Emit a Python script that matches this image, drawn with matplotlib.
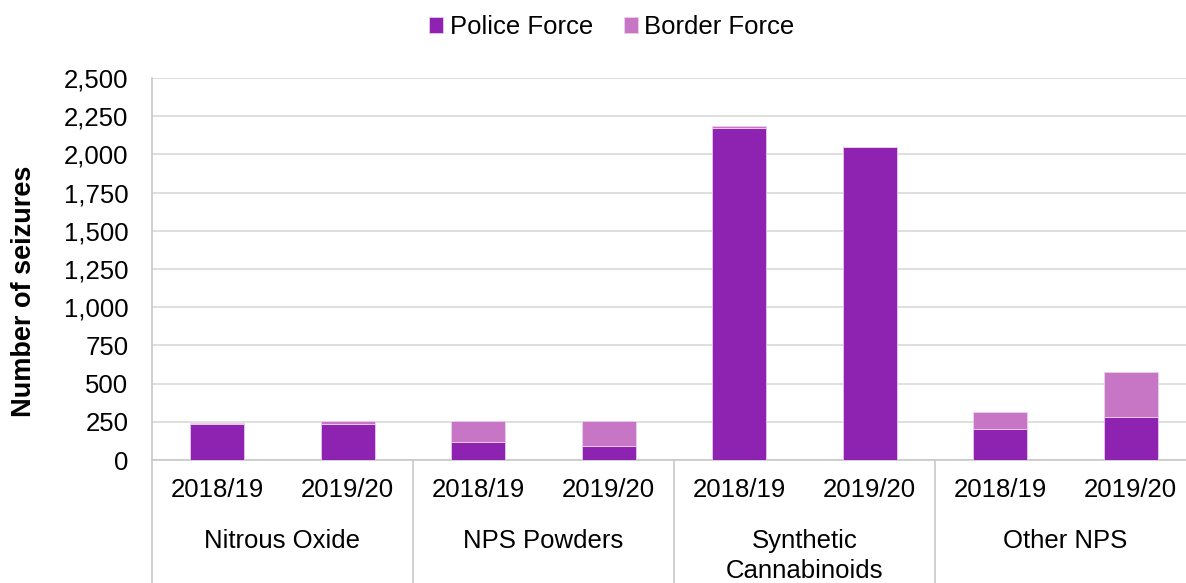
import matplotlib
matplotlib.use("Agg")
import matplotlib.pyplot as plt
import matplotlib.transforms as mtransforms
import numpy as np

plt.rcParams['font.family'] = ['Liberation Sans', 'DejaVu Sans']

groups = ["Nitrous Oxide", "NPS Powders", "Synthetic\nCannabinoids", "Other NPS"]
years = ["2018/19", "2019/20"]
police = [235, 236, 118, 92, 2170, 2048, 203, 279]
border = [5, 16, 134, 160, 15, 1, 109, 299]
yticks = [0, 250, 500, 750, 1000, 1250, 1500, 1750, 2000, 2250, 2500]

FS = 18.5
W, H = 1186, 583
fig = plt.figure(figsize=(W / 100, H / 100), dpi=100)
ax = fig.add_axes([152 / W, 1 - 460 / H, (1196 - 152) / W, (460 - 78) / H])

x = np.arange(len(police))
c_police = "#8E22B1"
c_border = "#C776C5"
ax.bar(x, police, width=0.41, color=c_police, edgecolor="#e8c8ee", linewidth=0.6,
       label="Police Force", zorder=3)
ax.bar(x, border, width=0.41, bottom=police, color=c_border, edgecolor="#ecd0ec",
       linewidth=0.6, label="Border Force", zorder=3)

ax.set_xlim(-0.5, len(police) - 0.5)
ax.set_ylim(0, 2500)
ax.set_yticks(yticks)
ax.set_yticklabels([f"{v:,}" for v in yticks], fontsize=FS)
ax.yaxis.grid(True, color="#d9d9d9", linewidth=1.2, zorder=0)
ax.set_axisbelow(True)

for s in ["top", "right"]:
    ax.spines[s].set_visible(False)
for s in ["left", "bottom"]:
    ax.spines[s].set_color("#c8c8c8")
    ax.spines[s].set_linewidth(1.2)

ax.tick_params(axis="y", length=0, pad=17)
ax.set_xticks(x)
ax.set_xticklabels(years * len(groups), fontsize=FS)
ax.tick_params(axis="x", length=0, pad=13)

ax.set_ylabel("Number of seizures", fontsize=19.5, fontweight="bold", labelpad=19,
              y=(460 - 291) / (460 - 78))

trans = mtransforms.blended_transform_factory(ax.transData, ax.transAxes)
ax_h = 460 - 78
bottom_ax = -(H - 460) / ax_h
for g in range(len(groups) + 1):
    xb = g * len(years) - 0.5
    ax.plot([xb, xb], [0, bottom_ax], transform=trans, color="#c8c8c8",
            linewidth=1.2, clip_on=False)

for g, name in enumerate(groups):
    xc = g * len(years) + (len(years) - 1) / 2
    ax.text(xc, -(529 - 460) / ax_h, name, transform=trans, ha="center", va="top",
            fontsize=FS, linespacing=1.3)

fig.legend(loc="center", bbox_to_anchor=(612 / W, 1 - 27 / H), ncol=2, frameon=False,
           fontsize=FS, handlelength=0.55, handleheight=0.55, handletextpad=0.25,
           columnspacing=1.2)

fig.savefig("out.png", dpi=100)
